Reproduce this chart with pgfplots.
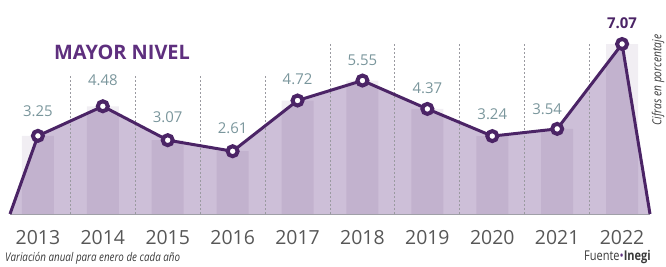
\documentclass[border=0pt]{standalone}
\usepackage{pgfplots}
\pgfplotsset{compat=1.18}
\usepackage{fontspec}
\setmainfont{Open Sans}
\newfontfamily\condfont[FakeStretch=0.82]{Open Sans}
\definecolor{linec}{HTML}{4B2466}
\definecolor{areac}{HTML}{CDBFD8}
\definecolor{barc}{RGB}{58,16,80}
\definecolor{valc}{HTML}{7A969C}
\definecolor{titlec}{HTML}{5E2F7E}
\definecolor{yearc}{HTML}{3A3A3A}
\definecolor{dashc}{HTML}{9A9AA0}
\definecolor{basec}{HTML}{A0A0A8}
\begin{document}
\begin{tikzpicture}
\useasboundingbox (0,0) rectangle (666bp,267bp);
\begin{axis}[
  at={(10bp,53bp)}, anchor=south west,
  scale only axis, width=640bp, height=214bp,
  xmin=2012.57, xmax=2022.43, ymin=0, ymax=8.9,
  axis x line=bottom, axis y line=none,
  axis line style={draw=basec, line width=1.5bp, -},
  xtick={2013,2014,2015,2016,2017,2018,2019,2020,2021,2022},
  major tick length=0pt,
  xticklabel style={font=\fontsize{19.5}{20}\selectfont, text=yearc!85, anchor=center, yshift=-24bp},
  /pgf/number format/1000 sep={},
  /pgf/number format/assume math mode=true,
  clip=false,
]
% area
\addplot[fill=areac, draw=none] coordinates {
  (2012.57,0) (2013,3.25) (2014,4.48) (2015,3.07) (2016,2.61) (2017,4.72)
  (2018,5.55) (2019,4.37) (2020,3.24) (2021,3.54) (2022,7.07) (2022.43,0)} \closedcycle;
% columns
\addplot[ybar, bar width=32bp, fill=barc, fill opacity=0.07, draw=none] coordinates {
  (2013,3.25) (2014,4.48) (2015,3.07) (2016,2.61) (2017,4.72)
  (2018,5.55) (2019,4.37) (2020,3.24) (2021,3.54) (2022,7.07)};
% dashed separators
\pgfplotsinvokeforeach{2013.5,2014.5,2015.5,2016.5}{
  \draw[dashc, line width=1bp, dash pattern=on 2bp off 2bp] (axis cs:#1,0) -- (axis cs:#1,5.8);
}
\pgfplotsinvokeforeach{2017.5,2018.5,2019.5,2020.5,2021.5}{
  \draw[dashc, line width=1bp, dash pattern=on 2bp off 2bp] (axis cs:#1,0) -- (axis cs:#1,7.15);
}
% line
\addplot[linec, line width=3bp, line join=round] coordinates {
  (2012.57,0) (2013,3.25) (2014,4.48) (2015,3.07) (2016,2.61) (2017,4.72)
  (2018,5.55) (2019,4.37) (2020,3.24) (2021,3.54) (2022,7.07) (2022.43,0)};
% markers
\addplot[only marks, mark=*, mark size=5bp, mark options={draw=linec, fill=white, line width=4bp}] coordinates {
  (2013,3.25) (2014,4.48) (2015,3.07) (2016,2.61) (2017,4.72)
  (2018,5.55) (2019,4.37) (2020,3.24) (2021,3.54) (2022,7.07)};
% value labels
\tikzset{lbl/.style={font=\fontsize{15}{15}\selectfont, text=valc, anchor=center}}
\node[lbl, yshift=25bp] at (axis cs:2013,3.25) {3.25};
\node[lbl, yshift=26bp] at (axis cs:2014,4.48) {4.48};
\node[lbl, yshift=23bp] at (axis cs:2015,3.07) {3.07};
\node[lbl, yshift=23bp] at (axis cs:2016,2.61) {2.61};
\node[lbl, yshift=21bp] at (axis cs:2017,4.72) {4.72};
\node[lbl, yshift=20bp] at (axis cs:2018,5.55) {5.55};
\node[lbl, yshift=21bp] at (axis cs:2019,4.37) {4.37};
\node[lbl, yshift=22bp] at (axis cs:2020,3.24) {3.24};
\node[lbl, yshift=20bp, xshift=-10bp] at (axis cs:2021,3.54) {3.54};
\node[font=\fontsize{15}{15}\selectfont\bfseries, text=linec, anchor=center, yshift=21bp] at (axis cs:2022,7.07) {7.07};
\end{axis}
% texts
\node[anchor=west, inner sep=0pt, font=\fontsize{20}{20}\selectfont\bfseries, text=titlec] at (54bp,215bp) {MAYOR NIVEL};
\node[rotate=90, inner sep=0pt, font=\condfont\itshape\fontsize{12.5}{12.5}\selectfont, text=yearc] at (658bp,187bp) {Cifras en porcentaje};
\node[anchor=west, inner sep=0pt, font=\condfont\itshape\fontsize{12}{12}\selectfont, text=yearc] at (5bp,9bp) {Variación anual para enero de cada año};
\node[anchor=east, inner sep=0pt, font=\condfont\fontsize{13.5}{13.5}\selectfont, text=yearc] at (651bp,10bp) {Fuente{\color{titlec}\textbullet}\textbf{Inegi}};
\end{tikzpicture}
\end{document}
